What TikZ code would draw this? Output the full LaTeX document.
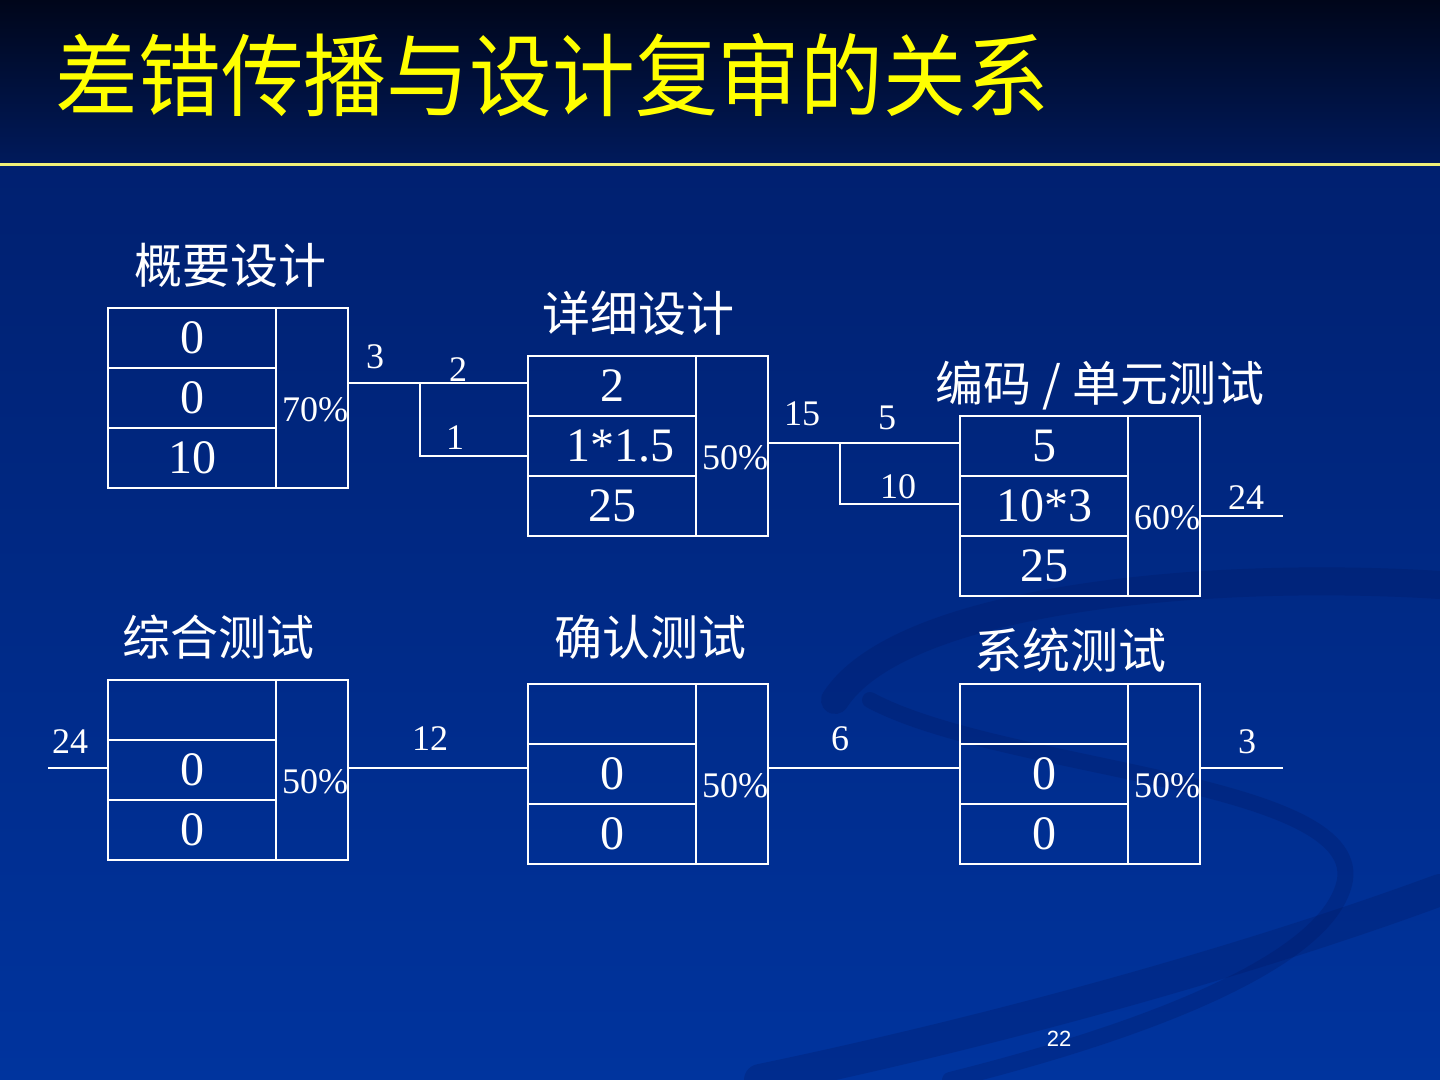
\documentclass[tikz,border=0pt]{standalone}
\usepackage{fontspec}
\setmainfont{Liberation Serif}
\newfontfamily\cjk{Noto Sans CJK SC}
\newfontfamily\pgfont{Liberation Sans}
\usetikzlibrary{positioning,calc}
\definecolor{bgTop}{RGB}{0,6,26}
\definecolor{bgMid}{RGB}{0,26,92}
\definecolor{bgLow}{RGB}{0,32,112}
\definecolor{bgCen}{RGB}{0,48,150}
\definecolor{bgBot}{RGB}{0,52,158}
\definecolor{bgSwirl}{RGB}{0,22,95}
\definecolor{ttlYellow}{RGB}{255,255,0}
\definecolor{ruleYellow}{RGB}{240,240,120}
\tikzset{
  rcell/.style={draw=white, line width=1pt, minimum width=84pt, minimum height=30pt,
                inner sep=0pt, outer sep=0pt, text=white, font=\fontsize{24}{24}\selectfont},
  rpct/.style={draw=white, line width=1pt, minimum width=36pt, minimum height=90pt,
               inner sep=0pt, outer sep=0pt},
  rpctlab/.style={text=white, font=\fontsize{18}{18}\selectfont, inner sep=0pt},
  rcap/.style={text=white, font=\cjk\fontsize{24}{24}\selectfont, inner sep=0pt},
  rnum/.style={text=white, font=\fontsize{18}{18}\selectfont, inner sep=0pt},
  rline/.style={draw=white, line width=1pt},
  rswirl/.style={draw=bgSwirl, opacity=0.25, line cap=round},
}

\begin{document}
\begin{tikzpicture}[x=0.5pt, y=-0.5pt]
  \useasboundingbox (0,0) rectangle (1440,1080);
  % background
  \shade[top color=bgTop, bottom color=bgMid] (0,0) rectangle (1440,165);
  \shade[top color=bgLow, middle color=bgCen, bottom color=bgBot] (0,165) rectangle (1440,1080);
  \draw[rswirl, line width=14pt] (835,700) .. controls (900,600) and (1200,570) .. (1440,585);
  \draw[rswirl, line width=8pt] (870,700) .. controls (1000,770) and (1360,780) .. (1345,880)
        .. controls (1330,960) and (1150,1030) .. (950,1080);
  \draw[rswirl, line width=16pt] (1440,890) .. controls (1250,960) and (1000,1030) .. (760,1080);
  \draw[ruleYellow, line width=1.5pt] (0,165) -- (1440,165);
  \node[anchor=west, text=ttlYellow, font=\cjk\fontsize{45}{45}\selectfont, inner sep=0pt]
    (ttl) at (55,75) {\scalebox{0.92}[1]{差错传播与设计复审的关系}};

  % 概要设计
  \node[rcap] (gycap) at (230,265) {概要设计};
  \node[rcell] (gy1) at (192,338) {0};
  \node[rcell, below=0pt of gy1] (gy2) {0};
  \node[rcell, below=0pt of gy2] (gy3) {10};
  \node[rpct, right=0pt of gy2] (gyp) {};
  \node[rpctlab] (gyv) at ($(gyp.center)+(3,12)$) {70\%};

  % 详细设计
  \node[rcap] (xxcap) at (638,313) {详细设计};
  \node[rcell] (xx1) at (612,386) {2};
  \node[rcell, below=0pt of xx1] (xx2) {\hspace*{8pt}1*1.5};
  \node[rcell, below=0pt of xx2] (xx3) {25};
  \node[rpct, right=0pt of xx2] (xxp) {};
  \node[rpctlab] (xxv) at ($(xxp.center)+(3,12)$) {50\%};

  % 编码 / 单元测试
  \node[rcap] (bmcap) at (1100,385) {编码 / 单元测试};
  \node[rcell] (bm1) at (1044,446) {5};
  \node[rcell, below=0pt of bm1] (bm2) {10*3};
  \node[rcell, below=0pt of bm2] (bm3) {25};
  \node[rpct, right=0pt of bm2] (bmp) {};
  \node[rpctlab] (bmv) at ($(bmp.center)+(3,12)$) {60\%};

  % 综合测试
  \node[rcap] (zhcap) at (218,637) {综合测试};
  \node[rcell] (zh1) at (192,710) {};
  \node[rcell, below=0pt of zh1] (zh2) {0};
  \node[rcell, below=0pt of zh2] (zh3) {0};
  \node[rpct, right=0pt of zh2] (zhp) {};
  \node[rpctlab] (zhv) at ($(zhp.center)+(3,12)$) {50\%};

  % 确认测试
  \node[rcap] (qrcap) at (650,637) {确认测试};
  \node[rcell] (qr1) at (612,714) {};
  \node[rcell, below=0pt of qr1] (qr2) {0};
  \node[rcell, below=0pt of qr2] (qr3) {0};
  \node[rpct, right=0pt of qr2] (qrp) {};
  \node[rpctlab] (qrv) at ($(qrp.center)+(3,12)$) {50\%};

  % 系统测试
  \node[rcap] (xtcap) at (1070,650) {系统测试};
  \node[rcell] (xt1) at (1044,714) {};
  \node[rcell, below=0pt of xt1] (xt2) {0};
  \node[rcell, below=0pt of xt2] (xt3) {0};
  \node[rpct, right=0pt of xt2] (xtp) {};
  \node[rpctlab] (xtv) at ($(xtp.center)+(3,12)$) {50\%};

  % connectors, top row
  \coordinate (gyS) at (420,383);
  \coordinate (gyT) at (420,456);
  \draw[rline] (gyp.east |- gyS) -- (gyS) -- (xx1.west |- gyS);
  \draw[rline] (gyS) -- (gyT) -- (xx2.west |- gyT);
  \coordinate (xxS) at (840,443);
  \coordinate (xxT) at (840,504);
  \draw[rline] (xxp.east |- xxS) -- (xxS) -- (bm1.west |- xxS);
  \draw[rline] (xxS) -- (xxT) -- (bm2.west |- xxT);
  \coordinate (bmEnd) at (1283,516);
  \draw[rline] (bmp.east |- bmEnd) -- (bmEnd);

  % connectors, bottom row
  \coordinate (zhIn) at (48,768);
  \coordinate (xtEnd) at (1283,768);
  \draw[rline] (zhIn) -- (zh2.west |- zhIn);
  \draw[rline] (zhp.east |- zhIn) -- (qr2.west |- zhIn);
  \draw[rline] (qrp.east |- zhIn) -- (xt2.west |- zhIn);
  \draw[rline] (xtp.east |- zhIn) -- (xtEnd);

  % connector values
  \node[rnum] (n3) at (375,357) {3};
  \node[rnum] (n2) at (458,370) {2};
  \node[rnum] (n1) at (455,438) {1};
  \node[rnum] (n15) at (802,414) {15};
  \node[rnum] (n5) at (887,418) {5};
  \node[rnum] (n10) at (898,487) {10};
  \node[rnum] (n24a) at (1246,498) {24};
  \node[rnum] (n24b) at (70,742) {24};
  \node[rnum] (n12) at (430,739) {12};
  \node[rnum] (n6) at (840,739) {6};
  \node[rnum] (n3b) at (1247,742) {3};

  \node[text=white, font=\pgfont\fontsize{11}{11}\selectfont, inner sep=0pt] (pgno) at (1059,1039) {22};
\end{tikzpicture}
\end{document}
